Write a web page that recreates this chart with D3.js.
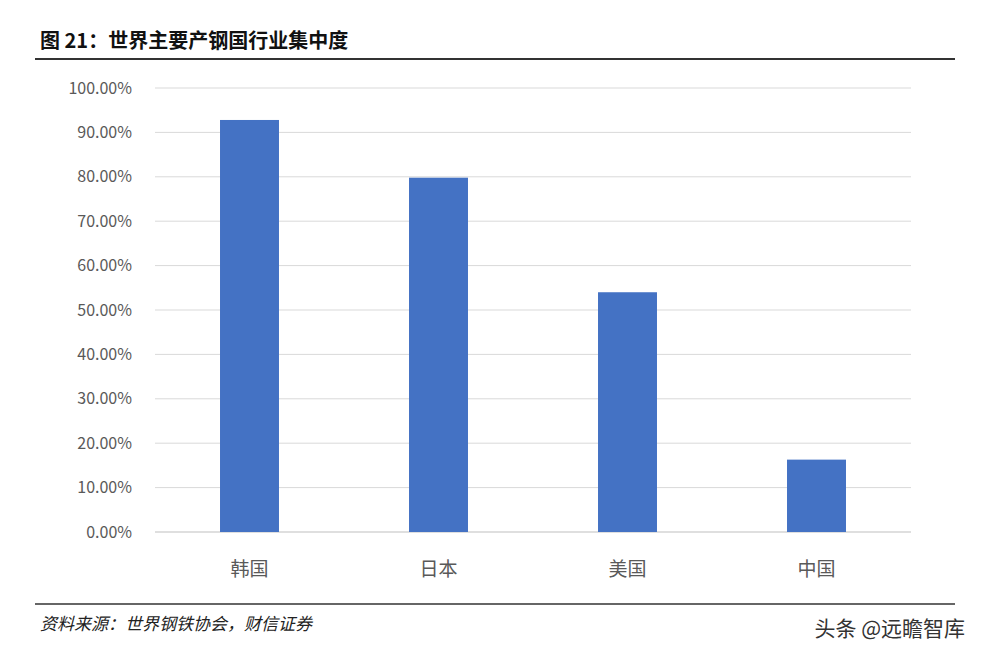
<!DOCTYPE html>
<html>
<head>
<meta charset="UTF-8">
<script src="https://d3js.org/d3.v7.min.js"></script>
<style>body{margin:0;background:#fff;}</style>
</head>
<body>
<svg width="984" height="658"></svg>
<script>
var categories = ["韩国", "日本", "美国", "中国"];
var values = [0.928, 0.798, 0.540, 0.163];
var yTicks = [0, 0.1, 0.2, 0.3, 0.4, 0.5, 0.6, 0.7, 0.8, 0.9, 1.0];

var svg = d3.select("svg");
var font = "'Noto Sans CJK SC', 'Noto Sans', sans-serif";

// title
svg.append("text").attr("x", 40).attr("y", 48)
    .attr("font-family", font).attr("font-weight", "bold").attr("font-size", 20)
    .attr("fill", "#111").text("图 21：世界主要产钢国行业集中度");
svg.append("line").attr("x1", 35).attr("x2", 955).attr("y1", 59).attr("y2", 59)
    .attr("stroke", "#333").attr("stroke-width", 2);

var x = d3.scaleBand().domain(categories).range([155, 911]).paddingInner(0.688).paddingOuter(0.344);
var y = d3.scaleLinear().domain([0, 1]).range([532, 88]);

var g = svg.append("g");
g.selectAll("line.grid").data(yTicks).enter().append("line")
    .attr("x1", 155).attr("x2", 911)
    .attr("y1", function(d) { return y(d); }).attr("y2", function(d) { return y(d); })
    .attr("stroke", function(d) { return d === 0 ? "#bfbfbf" : "#d9d9d9"; });

g.selectAll("text.yl").data(yTicks).enter().append("text")
    .attr("x", 132).attr("y", function(d) { return y(d); }).attr("dy", "0.35em")
    .attr("text-anchor", "end").attr("font-family", font).attr("font-size", 16)
    .attr("fill", "#595959").text(function(d) { return (d * 100).toFixed(2) + "%"; });

g.selectAll("rect").data(values).enter().append("rect")
    .attr("x", function(d, i) { return x(categories[i]); })
    .attr("width", x.bandwidth())
    .attr("y", function(d) { return y(d); })
    .attr("height", function(d) { return y(0) - y(d); })
    .attr("fill", "#4472c4");

g.selectAll("text.xl").data(categories).enter().append("text")
    .attr("x", function(d) { return x(d) + x.bandwidth() / 2; }).attr("y", 576)
    .attr("text-anchor", "middle").attr("font-family", font).attr("font-size", 19)
    .attr("fill", "#595959").text(function(d) { return d; });

// footer
svg.append("line").attr("x1", 35).attr("x2", 955).attr("y1", 604).attr("y2", 604)
    .attr("stroke", "#333").attr("stroke-width", 1.5);
svg.append("text").attr("x", 40).attr("y", 630)
    .attr("font-family", font).attr("font-style", "italic").attr("font-size", 17)
    .attr("fill", "#222").attr("transform", "skewX(0)").text("资料来源：世界钢铁协会，财信证券");
svg.append("text").attr("x", 965).attr("y", 636).attr("text-anchor", "end")
    .attr("font-family", font).attr("font-size", 21)
    .attr("fill", "#333").text("头条 @远瞻智库");
</script>
</body>
</html>
